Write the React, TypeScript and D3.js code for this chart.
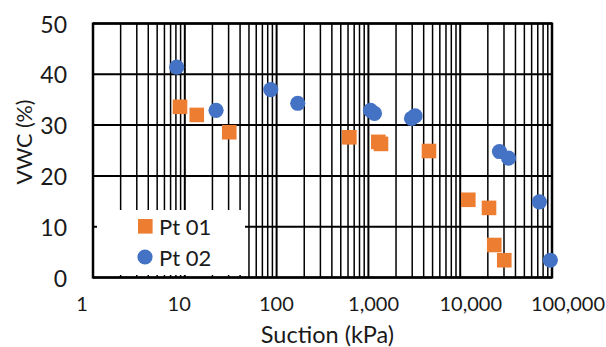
import React from "react";
import * as d3 from "d3";

const pt01Suction = [8.87, 13.5, 30.5, 620, 1282, 1371, 4570, 12250, 20600, 23500, 30200];
const pt01VWC = [33.6, 32.0, 28.6, 27.6, 26.7, 26.3, 24.9, 15.3, 13.7, 6.4, 3.4];
const pt02Suction = [8.16, 21.9, 86.3, 170, 1054, 1164, 2946, 3220, 26800, 33600, 72800, 95900];
const pt02VWC = [41.4, 32.9, 37.0, 34.3, 32.9, 32.3, 31.3, 31.8, 24.8, 23.5, 14.9, 3.4];
const xTickValues = [1, 10, 100, 1000, 10000, 100000];
const xTickLabels = ["1", "10", "100", "1,000", "10,000", "100,000"];
const yTickValues = [0, 10, 20, 30, 40, 50];
const seriesNames = ["Pt 01", "Pt 02"];
const seriesColors = ["#ED7D31", "#4472C4"];

const W = 606;
const H = 347;
const L = 93, R = 552, T = 23.5, B = 277.5;
const FONT = "Lato, 'Open Sans', sans-serif";
const TXT = "#1a1a1a";

export default function App() {
  const x = d3.scaleLog().domain([1, 1e5]).range([L, R]);
  const xLab = d3.scaleLog().domain([1, 1e5]).range([82, 568]);
  const y = d3.scaleLinear().domain([0, 50]).range([B, T]);

  const minor: number[] = [];
  for (let d = 1; d < 1e5; d *= 10) {
    for (let k = 2; k <= 9; k++) minor.push(d * k);
  }
  const major = [10, 100, 1000, 10000];

  const pt01 = pt01Suction.map((s, i) => ({ s, v: pt01VWC[i] }));
  const pt02 = pt02Suction.map((s, i) => ({ s, v: pt02VWC[i] }));

  return (
    <svg width={W} height={H} style={{ position: "absolute", left: 0, top: 0, background: "#fff" }}>
      <rect x={0} y={0} width={W} height={H} fill="#fff" />
      {/* grid */}
      {minor.map((m, i) => (
        <line key={"mn" + i} x1={x(m)} x2={x(m)} y1={T} y2={B} stroke="#000" strokeWidth={1.5} />
      ))}
      {major.map((m, i) => (
        <line key={"mj" + i} x1={x(m)} x2={x(m)} y1={T} y2={B} stroke="#000" strokeWidth={2} />
      ))}
      {yTickValues.map((v, i) => (
        <line key={"h" + i} x1={L} x2={R} y1={y(v)} y2={y(v)} stroke="#000" strokeWidth={2} />
      ))}
      {/* legend background */}
      <rect x={97} y={210} width={148} height={65} fill="#fff" />
      {/* frame */}
      <line x1={L} x2={L} y1={T - 1} y2={B + 1} stroke="#000" strokeWidth={2.5} />
      <line x1={R} x2={R} y1={T - 1} y2={B + 1} stroke="#000" strokeWidth={2.5} />
      <line x1={L} x2={R} y1={T} y2={T} stroke="#000" strokeWidth={2.5} />
      <line x1={L} x2={R} y1={B} y2={B} stroke="#000" strokeWidth={2.5} />
      {/* data */}
      {pt01.map((d, i) => (
        <rect key={"a" + i} x={x(d.s) - 7.3} y={y(d.v) - 7.3} width={14.6} height={14.6} fill={seriesColors[0]} />
      ))}
      {pt02.map((d, i) => (
        <circle key={"b" + i} cx={x(d.s)} cy={y(d.v)} r={7.6} fill={seriesColors[1]} />
      ))}
      {/* legend */}
      <rect x={138} y={219} width={14.6} height={14.6} fill={seriesColors[0]} />
      <text x={159} y={226.5} dominantBaseline="central" fontFamily={FONT} fontSize={22} fill={TXT}>{seriesNames[0]}</text>
      <circle cx={145} cy={257} r={7.6} fill={seriesColors[1]} />
      <text x={159} y={257.5} dominantBaseline="central" fontFamily={FONT} fontSize={22} fill={TXT}>{seriesNames[1]}</text>
      {/* y tick labels */}
      {yTickValues.map((v, i) => (
        <text key={"yl" + i} x={67} y={y(v)} textAnchor="end" dominantBaseline="central" fontFamily={FONT} fontSize={23} fill={TXT}>{v}</text>
      ))}
      {/* x tick labels */}
      {xTickValues.map((v, i) => (
        <text key={"xl" + i} x={xLab(v)} y={303} textAnchor="middle" dominantBaseline="central" fontFamily={FONT} fontSize={20} fill={TXT}>{xTickLabels[i]}</text>
      ))}
      {/* axis titles */}
      <text x={327.5} y={334} textAnchor="middle" dominantBaseline="central" fontFamily={FONT} fontSize={23.5} fill={TXT}>Suction (kPa)</text>
      <text transform="translate(24,142) rotate(-90)" textAnchor="middle" dominantBaseline="central" fontFamily={FONT} fontSize={21.5} fill={TXT}>VWC (%)</text>
    </svg>
  );
}
